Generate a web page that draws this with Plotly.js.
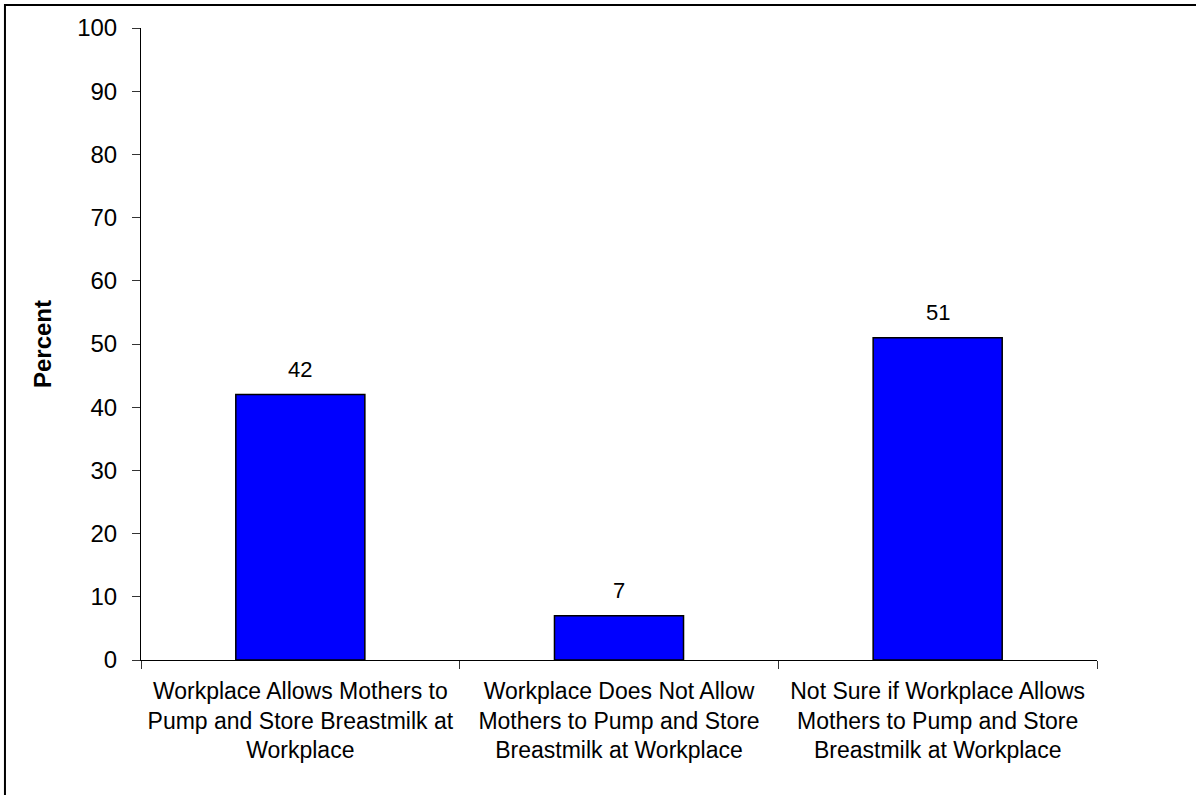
<!DOCTYPE html>
<html>
<head>
<meta charset="utf-8">
<script src="https://cdn.plot.ly/plotly-3.0.1.min.js"></script>
<style>
  html, body { margin: 0; padding: 0; background: #ffffff; }
  #chart { width: 1196px; height: 795px; }
</style>
</head>
<body>
<div id="chart"></div>
<script>
// Workplace policy on pumping and storing breastmilk (percent of respondents)
const categories = [
  "Workplace Allows Mothers to<br>Pump and Store Breastmilk at<br>Workplace",
  "Workplace Does Not Allow<br>Mothers to Pump and Store<br>Breastmilk at Workplace",
  "Not Sure if Workplace Allows<br>Mothers to Pump and Store<br>Breastmilk at Workplace"
];
const percents = [42, 7, 51];
const yTicks = [0, 10, 20, 30, 40, 50, 60, 70, 80, 90, 100];

const font = "Liberation Sans, Arial, sans-serif";

const trace = {
  type: "bar",
  x: categories,
  y: percents,
  marker: { color: "#0000FF", line: { color: "#000000", width: 1.5 } },
  hoverinfo: "x+y"
};

// value labels above each bar
const labels = categories.map((c, i) => ({
  x: c,
  y: percents[i],
  text: String(percents[i]),
  showarrow: false,
  xref: "x",
  yref: "y",
  yanchor: "bottom",
  yshift: 11,
  font: { family: font, size: 22, color: "#000000" }
}));

const layout = {
  width: 1196,
  height: 795,
  margin: { l: 141, r: 99, t: 28, b: 135 },
  paper_bgcolor: "#ffffff",
  plot_bgcolor: "#ffffff",
  showlegend: false,
  bargap: 0.595,
  font: { family: font, color: "#000000" },
  xaxis: {
    type: "category",
    showline: true,
    linecolor: "#000000",
    linewidth: 1,
    ticks: "outside",
    tickson: "boundaries",
    ticklen: 8,
    tickcolor: "#333333",
    ticklabelstandoff: 10,
    tickfont: { family: font, size: 23, color: "#000000" },
    showgrid: false,
    zeroline: false,
    fixedrange: true
  },
  yaxis: {
    range: [0, 100],
    tickvals: yTicks,
    ticktext: yTicks.map(String),
    showline: true,
    linecolor: "#000000",
    linewidth: 1,
    ticks: "outside",
    ticklen: 8,
    tickcolor: "#333333",
    ticklabelstandoff: 10,
    tickfont: { family: font, size: 24, color: "#000000" },
    showgrid: false,
    zeroline: false,
    fixedrange: true,
    title: {
      text: "<b>Percent</b>",
      font: { family: font, size: 24, color: "#000000" },
      standoff: 18
    }
  },
  annotations: labels,
  shapes: [{
    type: "rect",
    xref: "paper",
    yref: "paper",
    x0: -0.1423,
    x1: 1.2,
    y0: -0.4,
    y1: 1.0364,
    line: { color: "#000000", width: 2 },
    fillcolor: "rgba(0,0,0,0)",
    layer: "below"
  }]
};

Plotly.newPlot("chart", [trace], layout, { displayModeBar: false, responsive: false });
</script>
</body>
</html>
